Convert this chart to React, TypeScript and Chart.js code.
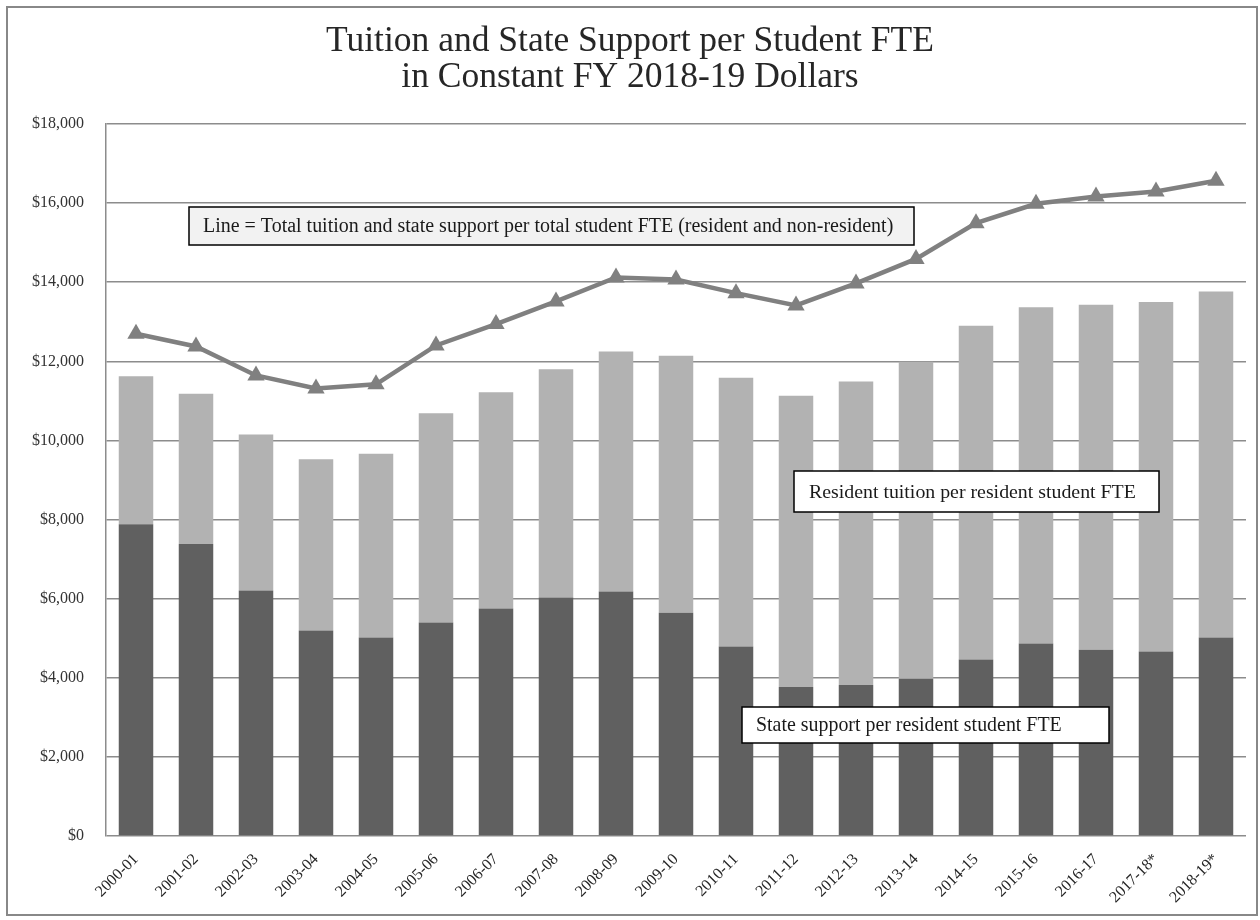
import React, { useEffect, useRef } from "react";
import { Chart, registerables } from "chart.js";

Chart.register(...registerables);

const categories = [
  "2000-01", "2001-02", "2002-03", "2003-04", "2004-05", "2005-06", "2006-07",
  "2007-08", "2008-09", "2009-10", "2010-11", "2011-12", "2012-13", "2013-14",
  "2014-15", "2015-16", "2016-17", "2017-18*", "2018-19*",
];

const stateSupport = [
  7880, 7385, 6206, 5196, 5019, 5398, 5752, 6029, 6181, 5642,
  4792, 3764, 3815, 3975, 4463, 4867, 4707, 4665, 5019,
];

const residentTuition = [
  3746, 3794, 3945, 4331, 4643, 5292, 5469, 5774, 6068, 6498,
  6792, 7364, 7676, 8015, 8435, 8503, 8722, 8832, 8748,
];

const totalPerStudent = [
  12696, 12376, 11643, 11314, 11420, 12401, 12941, 13514, 14121, 14070,
  13724, 13413, 13969, 14590, 15494, 15984, 16169, 16295, 16565,
];

const yTicks = [0, 2000, 4000, 6000, 8000, 10000, 12000, 14000, 16000, 18000];

const titleLines = ["Tuition and State Support per Student FTE", "in Constant FY 2018-19 Dollars"];
const lineNote = "Line = Total tuition and state support per total student FTE (resident and non-resident)";
const tuitionNote = "Resident tuition per resident student FTE";
const stateNote = "State support per resident student FTE";

const FONT = "'Liberation Serif', 'DejaVu Serif', serif";

function fitFont(ctx: CanvasRenderingContext2D, text: string, width: number, base: number) {
  ctx.font = `${base}px ${FONT}`;
  const w = ctx.measureText(text).width;
  return (base * width) / w;
}

function drawBox(
  ctx: CanvasRenderingContext2D,
  x1: number, y1: number, x2: number, y2: number,
  fill: string, text: string, tx: number, tw: number
) {
  ctx.save();
  ctx.fillStyle = fill;
  ctx.fillRect(x1, y1, x2 - x1, y2 - y1);
  ctx.strokeStyle = "#000000";
  ctx.lineWidth = 1.5;
  ctx.strokeRect(x1, y1, x2 - x1, y2 - y1);
  const size = fitFont(ctx, text, tw, 16);
  ctx.font = `${size}px ${FONT}`;
  ctx.fillStyle = "#1a1a1a";
  ctx.textAlign = "left";
  ctx.textBaseline = "middle";
  ctx.fillText(text, tx, (y1 + y2) / 2 + 1);
  ctx.restore();
}

const decorPlugin = {
  id: "decor",
  beforeDraw(chart: any) {
    const ctx = chart.ctx as CanvasRenderingContext2D;
    ctx.save();
    ctx.fillStyle = "#ffffff";
    ctx.fillRect(0, 0, chart.width, chart.height);
    ctx.restore();
  },
  afterDraw(chart: any) {
    const ctx = chart.ctx as CanvasRenderingContext2D;
    ctx.save();
    ctx.strokeStyle = "#888888";
    ctx.lineWidth = 2;
    ctx.strokeRect(7, 7, 1250, 908);
    ctx.fillStyle = "#262626";
    ctx.textAlign = "center";
    ctx.textBaseline = "middle";
    const s1 = fitFont(ctx, titleLines[0], 608, 28);
    ctx.font = `${s1}px ${FONT}`;
    ctx.fillText(titleLines[0], 630, 42);
    ctx.fillText(titleLines[1], 630, 78);
    ctx.restore();
    drawBox(ctx, 189, 207, 914, 245, "#f2f2f2", lineNote, 203, 691);
    drawBox(ctx, 794, 471, 1159, 512, "#ffffff", tuitionNote, 809, 327);
    drawBox(ctx, 742, 707, 1109, 743, "#ffffff", stateNote, 756, 306);
  },
};

export default function App() {
  const ref = useRef<HTMLCanvasElement | null>(null);

  useEffect(() => {
    document.body.style.margin = "0";
    const canvas = ref.current;
    if (!canvas) return;
    Chart.defaults.font.family = FONT;
    const chart = new Chart(canvas, {
      type: "bar",
      data: {
        labels: categories,
        datasets: [
          {
            type: "line",
            label: "Total tuition and state support per total student FTE",
            data: totalPerStudent,
            borderColor: "#808080",
            backgroundColor: "#808080",
            borderWidth: 4.5,
            pointStyle: "triangle",
            pointRadius: 10,
            pointBorderWidth: 0,
            pointBackgroundColor: "#808080",
            tension: 0,
            order: 0,
          } as any,
          {
            type: "bar",
            label: "State support per resident student FTE",
            data: stateSupport,
            backgroundColor: "#606060",
            barPercentage: 0.575,
            categoryPercentage: 1,
            order: 1,
          },
          {
            type: "bar",
            label: "Resident tuition per resident student FTE",
            data: residentTuition,
            backgroundColor: "#b2b2b2",
            barPercentage: 0.575,
            categoryPercentage: 1,
            order: 2,
          },
        ],
      },
      options: {
        responsive: false,
        animation: false,
        layout: { padding: { left: 0, right: 14, top: 124, bottom: 0 } },
        plugins: {
          legend: { display: false },
          title: { display: false },
          tooltip: { enabled: false },
        },
        scales: {
          x: {
            stacked: true,
            grid: { display: false, drawTicks: false },
            border: { display: false },
            ticks: {
              minRotation: 45,
              maxRotation: 45,
              padding: 14,
              color: "#262626",
              font: { family: FONT, size: 16 },
              autoSkip: false,
            },
            afterFit: (scale: any) => {
              scale.height = 84;
            },
          },
          y: {
            stacked: true,
            min: 0,
            max: 18000,
            afterBuildTicks: (scale: any) => {
              scale.ticks = yTicks.map((v) => ({ value: v }));
            },
            grid: { color: "#8c8c8c", lineWidth: 1.5, drawTicks: false },
            border: { display: true, color: "#8c8c8c", width: 1.5 },
            ticks: {
              padding: 22,
              color: "#333333",
              font: { family: FONT, size: 16 },
              callback: (v: any) => "$" + Number(v).toLocaleString("en-US"),
            },
            afterFit: (scale: any) => {
              scale.width = 106;
            },
          },
        },
      },
      plugins: [decorPlugin],
    });
    return () => chart.destroy();
  }, []);

  return (
    <div style={{ position: "absolute", left: 0, top: 0, width: 1260, height: 920 }}>
      <canvas ref={ref} width={1260} height={920} style={{ width: 1260, height: 920 }} />
    </div>
  );
}
